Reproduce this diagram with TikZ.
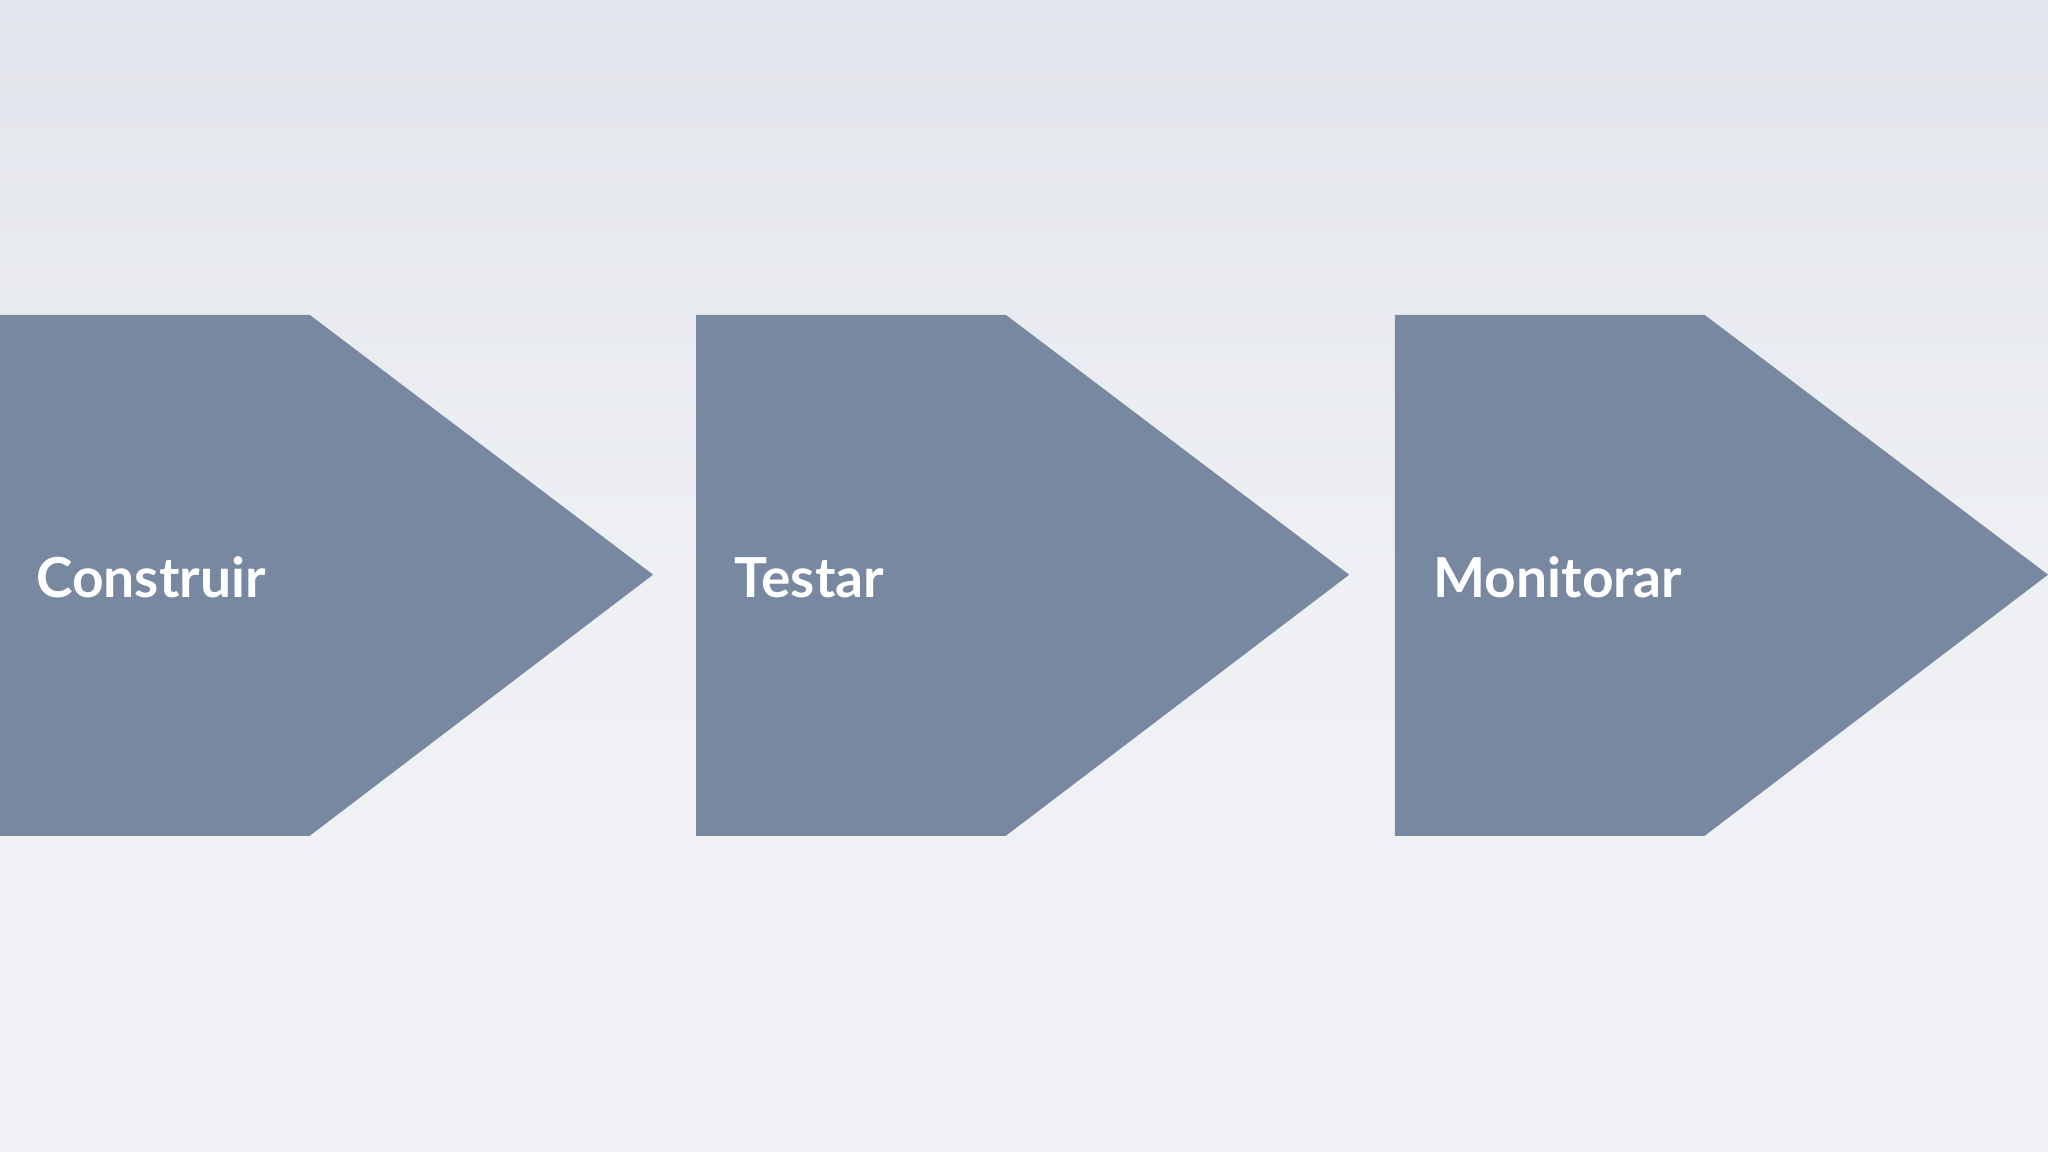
\documentclass[tikz,border=0pt]{standalone}
\usepackage{fontspec}
\setmainfont{Lato}
\definecolor{arrowfill}{HTML}{7888A0}
\definecolor{bgtop}{HTML}{E2E5EB}
\definecolor{bgmid}{HTML}{EEF0F4}
\definecolor{bgbot}{HTML}{F1F2F6}
\begin{document}
\begin{tikzpicture}[x=0.01cm,y=-0.01cm,
  chev/.style={fill=arrowfill,draw=none},
  lbl/.style={anchor=west,text=white,font=\fontsize{12}{14}\selectfont\bfseries,inner sep=0pt}]
\shade[top color=bgtop,bottom color=bgbot,middle color=bgmid] (0,0) rectangle (1568,882);
\useasboundingbox (0,0) rectangle (1568,882);
\foreach \x in {0,533,1068}{
  \fill[chev] (\x,241) -- (\x+237,241) -- (\x+500,440) -- (\x+237,640) -- (\x,640) -- cycle;
}
\node[lbl] (t1) at (27,442) {Construir};
\node[lbl] (t2) at (562,442) {Testar};
\node[lbl] (t3) at (1097,442) {Monitorar};
\end{tikzpicture}
\end{document}
